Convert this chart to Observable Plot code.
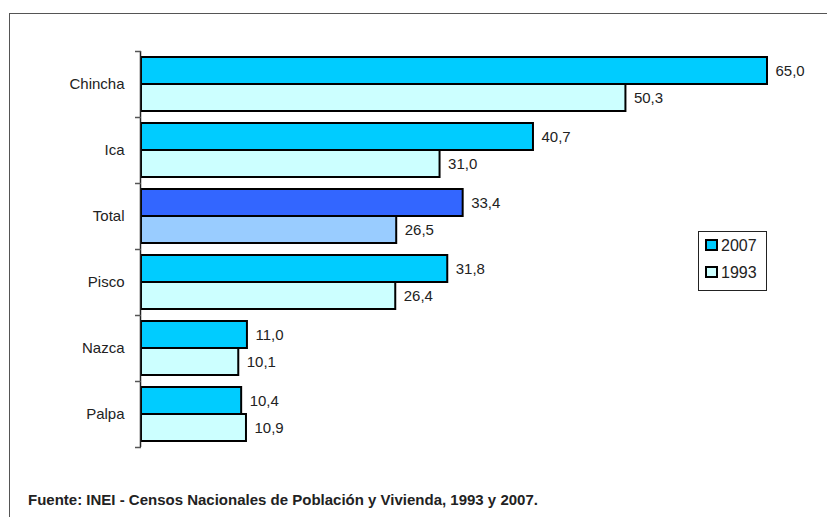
<!DOCTYPE html>
<html>
<head>
<meta charset="utf-8">
<script src="https://cdn.jsdelivr.net/npm/d3@7"></script>
<script src="https://cdn.jsdelivr.net/npm/@observablehq/plot@0.6"></script>
<style>
  html, body { margin: 0; padding: 0; background: #fff; }
  body { width: 827px; height: 517px; position: relative; overflow: hidden;
         font-family: "Liberation Sans", Arial, sans-serif; }
  #frame { position: absolute; left: 9px; top: 13px; right: -5px; bottom: -5px;
           border-top: 1px solid #555; border-left: 1px solid #555; }
  #chart { position: absolute; left: 0; top: 0; }
  #legend { position: absolute; left: 698px; top: 231px; width: 69px; height: 60px;
            border: 1px solid #222; background: #fff; box-sizing: border-box; }
  .item { position: absolute; left: 6px; font-size: 16px; color: #222; line-height: 16px; }
  .sw { display: inline-block; width: 9px; height: 8px; border: 2px solid #000; vertical-align: 0px; margin-right: 3px; }
  #caption { position: absolute; left: 28px; top: 491px; font-size: 15px; font-weight: bold; color: #222; }
</style>
</head>
<body>
<div id="frame"></div>
<div id="chart"></div>
<div id="legend"></div>
<div id="caption">Fuente: INEI - Censos Nacionales de Población y Vivienda, 1993 y 2007.</div>
<script>
const categories = ["Chincha", "Ica", "Total", "Pisco", "Nazca", "Palpa"];
const years = ["2007", "1993"];
const values2007 = [65.0, 40.7, 33.4, 31.8, 11.0, 10.4];
const values1993 = [50.3, 31.0, 26.5, 26.4, 10.1, 10.9];

const palette = {
  normal: {"2007": "#00CCFF", "1993": "#CCFFFF"},
  total:  {"2007": "#3366FF", "1993": "#99CCFF"}
};

const rows = [];
categories.forEach((c, i) => {
  rows.push({category: c, year: "2007", value: values2007[i]});
  rows.push({category: c, year: "1993", value: values1993[i]});
});
const colorOf = d => (d.category === "Total" ? palette.total : palette.normal)[d.year];
const fmt = v => v.toFixed(1).replace(".", ",");

const bandH = (447 - 51) / categories.length; // 66
const half = bandH / 2;
const outer = 6;
const r07 = rows.filter(d => d.year === "2007");
const r93 = rows.filter(d => d.year === "1993");
const weight = d => d.category === "Total" ? "bold" : "normal";

const chart = Plot.plot({
  width: 827,
  height: 517,
  marginLeft: 141,
  marginRight: 60,
  marginTop: 51,
  marginBottom: 70,
  style: {fontFamily: '"Liberation Sans", Arial, sans-serif', background: "transparent"},
  x: {domain: [0, 65], axis: null},
  y: {domain: categories, padding: 0, axis: null},
  color: {type: "identity"},
  marks: [
    Plot.barX(r07, {x: "value", y: "category", fill: colorOf, stroke: "#000", strokeWidth: 2,
      insetTop: outer, insetBottom: half}),
    Plot.barX(r93, {x: "value", y: "category", fill: colorOf, stroke: "#000", strokeWidth: 2,
      insetTop: half, insetBottom: outer}),
    Plot.text(r07, {x: "value", y: "category", text: d => fmt(d.value), dx: 8, dy: -(half - outer) / 2,
      textAnchor: "start", fontSize: 15, fill: "#222", fontWeight: weight}),
    Plot.text(r93, {x: "value", y: "category", text: d => fmt(d.value), dx: 8, dy: (half - outer) / 2,
      textAnchor: "start", fontSize: 15, fill: "#222", fontWeight: weight}),
    Plot.ruleX([0], {stroke: "#222", strokeWidth: 1.5, dx: -1}),
    Plot.axisY({ticks: categories, tickFormat: () => "", label: null, tickSize: 6, dy: -half, stroke: "#555", strokeWidth: 1.5}),
    Plot.axisY({ticks: categories.slice(-1), tickFormat: () => "", label: null, tickSize: 6, dy: half, stroke: "#555", strokeWidth: 1.5}),
    Plot.axisY({ticks: categories, tickSize: 0, tickPadding: 17, label: null, fontSize: 15, fill: "#222"})
  ]
});
document.getElementById("chart").appendChild(chart);

const legend = document.getElementById("legend");
years.forEach((y, i) => {
  const el = document.createElement("div");
  el.className = "item";
  el.style.top = (6 + i * 27) + "px";
  el.innerHTML = `<span class="sw" style="background:${palette.normal[y]}"></span>${y}`;
  legend.appendChild(el);
});
</script>
</body>
</html>
